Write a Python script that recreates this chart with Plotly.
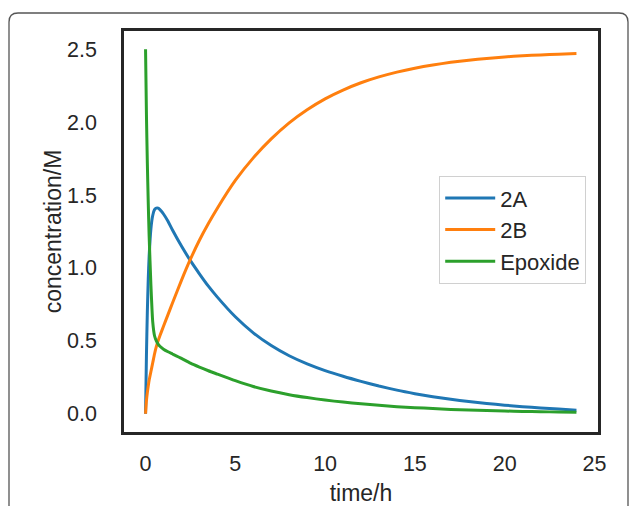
import plotly.graph_objects as go

time_h = [0, 0.05, 0.1, 0.15, 0.2, 0.3, 0.4, 0.5, 0.6, 0.7, 0.8, 1.0, 1.25, 1.5, 2, 2.5, 3, 3.5, 4,
          5, 6, 7, 8, 9, 10, 11, 12, 13, 14, 15, 16, 17, 18, 19, 20, 21, 22, 23, 24]

conc_2A = [0, 0.40, 0.70, 0.92, 1.08, 1.27, 1.36, 1.40, 1.41, 1.41, 1.40, 1.37, 1.32, 1.26, 1.15, 1.05, 0.96, 0.875, 0.80,
           0.665, 0.555, 0.468, 0.398, 0.342, 0.296, 0.257, 0.222, 0.19, 0.162, 0.138, 0.117, 0.099, 0.084, 0.071, 0.059, 0.049, 0.040, 0.032, 0.025]

conc_2B = [0, 0.09, 0.145, 0.19, 0.23, 0.29, 0.35, 0.41, 0.46, 0.50, 0.535, 0.60, 0.68, 0.76, 0.915, 1.06, 1.19, 1.305, 1.41,
           1.60, 1.755, 1.885, 1.995, 2.085, 2.16, 2.22, 2.27, 2.31, 2.343, 2.37, 2.392, 2.41, 2.425, 2.437, 2.447, 2.455, 2.461, 2.466, 2.47]

conc_epoxide = [2.5, 2.05, 1.72, 1.45, 1.22, 0.88, 0.63, 0.535, 0.50, 0.478, 0.463, 0.443, 0.425, 0.41, 0.38, 0.347, 0.32, 0.295, 0.272,
                0.227, 0.187, 0.156, 0.131, 0.111, 0.094, 0.080, 0.068, 0.058, 0.049, 0.042, 0.036, 0.030, 0.026, 0.022, 0.019, 0.016, 0.014, 0.012, 0.010]

x_ticks = [0, 5, 10, 15, 20, 25]
y_ticks = [0.0, 0.5, 1.0, 1.5, 2.0, 2.5]

series = [("2A", conc_2A, "#1f77b4"), ("2B", conc_2B, "#ff7f0e"), ("Epoxide", conc_epoxide, "#2ca02c")]

FONT = "Liberation Sans, Arial, sans-serif"

fig = go.Figure()
for name, vals, color in series:
    fig.add_trace(go.Scatter(x=time_h, y=vals, mode="lines", name=name,
                             line=dict(color=color, width=3, shape="spline", smoothing=0.6)))

W, H = 629, 506
L, R, T, B = 124, 31, 31, 74
pw, ph = W - L - R, H - T - B

def px(xp):
    return (xp - L) / pw

def py(yp):
    return (H - B - yp) / ph

# outer rounded frame
x0, x1 = px(9), px(628)
y0, y1 = py(13), py(530)
rx, ry = 9 / pw, 9 / ph
path = (f"M {x0},{y1} L {x0},{y0 - ry} Q {x0},{y0} {x0 + rx},{y0} "
        f"L {x1 - rx},{y0} Q {x1},{y0} {x1},{y0 - ry} L {x1},{y1}")
fig.add_shape(type="path", path=path, xref="paper", yref="paper",
              line=dict(color="#555555", width=1.3), layer="below")

fig.update_layout(
    width=W, height=H,
    margin=dict(l=L, r=R, t=T, b=B, autoexpand=False),
    paper_bgcolor="white", plot_bgcolor="white",
    font=dict(family=FONT, size=21.5, color="#262626"),
    showlegend=True,
    legend=dict(x=px(586), y=py(176), xanchor="right", yanchor="top",
                bgcolor="white", bordercolor="#d0d0d0", borderwidth=1.2,
                font=dict(size=22, family=FONT, color="#262626"),
                itemwidth=50, tracegroupgap=0),
)
fig.update_xaxes(range=[-1.2, 25.2], tickvals=x_ticks, ticktext=[str(v) for v in x_ticks],
                 showgrid=False, zeroline=False, showline=True, mirror=True, automargin=False,
                 linecolor="#262626", linewidth=2.5, ticks="", ticklabelstandoff=10,
                 title=dict(text="time/h", standoff=24, font=dict(size=23, family=FONT)))
fig.update_yaxes(range=[-0.125, 2.625], tickvals=y_ticks, ticktext=[f"{v:.1f}" for v in y_ticks],
                 showgrid=False, zeroline=False, showline=True, mirror=True, automargin=False,
                 linecolor="#262626", linewidth=2.5, ticks="", ticklabelstandoff=20,
                 title=dict(text="concentration/M", standoff=0, font=dict(size=23, family=FONT)))

fig.write_html("out.html", config={"displayModeBar": False})
with open("out.html", "r", encoding="utf-8") as f:
    html = f.read()
html = html.replace("<head>", "<head><style>html,body{margin:0;padding:0;overflow:hidden;}</style>", 1)
with open("out.html", "w", encoding="utf-8") as f:
    f.write(html)
